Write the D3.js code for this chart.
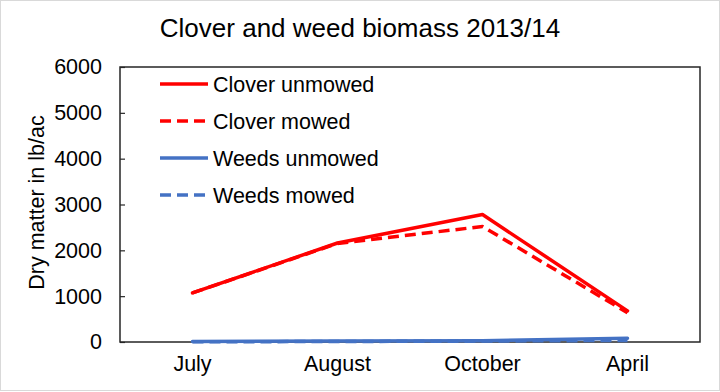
<!DOCTYPE html>
<html>
<head>
<meta charset="utf-8">
<script src="https://cdn.jsdelivr.net/npm/d3@7"></script>
<style>
  body { margin: 0; background: #fff; }
  svg { display: block; font-family: Arial, "Liberation Sans", sans-serif; }
</style>
</head>
<body>
<div id="chart"></div>
<script>
// chart data
const months = ['July', 'August', 'October', 'April'];
const cloverUnmowed = [1070, 2160, 2780, 680];
const cloverMowed = [1070, 2150, 2520, 640];
const weedsUnmowed = [10, 20, 30, 80];
const weedsMowed = [5, 10, 20, 35];
const yTicks = [0, 1000, 2000, 3000, 4000, 5000, 6000];

const series = [
  { name: 'Clover unmowed', values: cloverUnmowed, color: '#ff0000', dash: null },
  { name: 'Clover mowed', values: cloverMowed, color: '#ff0000', dash: '11,6' },
  { name: 'Weeds unmowed', values: weedsUnmowed, color: '#4472c4', dash: null },
  { name: 'Weeds mowed', values: weedsMowed, color: '#4472c4', dash: '11,6' }
];

const width = 720, height = 392;
const margin = { top: 67, right: 20, bottom: 50, left: 120 };

const svg = d3.select('#chart').append('svg')
  .attr('width', width)
  .attr('height', height);

// outer chart border
svg.append('rect')
  .attr('x', 0.5).attr('y', 0.5)
  .attr('width', width - 1).attr('height', height - 2)
  .attr('fill', '#fff')
  .attr('stroke', '#d9d9d9');

const x = d3.scaleBand()
  .domain(months)
  .range([margin.left, width - margin.right]);

const y = d3.scaleLinear()
  .domain([0, 6000])
  .range([height - margin.bottom, margin.top]);

// plot box
svg.append('rect')
  .attr('x', margin.left).attr('y', margin.top)
  .attr('width', width - margin.left - margin.right)
  .attr('height', height - margin.top - margin.bottom)
  .attr('fill', 'none')
  .attr('stroke', '#262626')
  .attr('stroke-width', 1.5);

// y axis with inward ticks
const yAxis = svg.append('g')
  .attr('transform', `translate(${margin.left},0)`)
  .call(d3.axisLeft(y).tickValues(yTicks).tickFormat(d3.format('d')).tickSize(-5).tickPadding(18));
yAxis.select('.domain').remove();
yAxis.selectAll('.tick line').attr('stroke', '#262626').attr('stroke-width', 1.2);
yAxis.selectAll('.tick text')
  .attr('fill', '#000')
  .style('font-size', '21.5px')
  .attr('font-family', 'Arial, "Liberation Sans", sans-serif');

// x axis labels
const xAxis = svg.append('g')
  .attr('transform', `translate(0,${height - margin.bottom})`)
  .call(d3.axisBottom(x).tickSize(0).tickPadding(14));
xAxis.select('.domain').remove();
xAxis.selectAll('.tick text')
  .attr('fill', '#000')
  .style('font-size', '21.5px')
  .attr('font-family', 'Arial, "Liberation Sans", sans-serif');

// title
svg.append('text')
  .attr('x', 360).attr('y', 37)
  .attr('text-anchor', 'middle')
  .style('font-size', '26px')
  .text('Clover and weed biomass 2013/14');

// y axis title
svg.append('text')
  .attr('transform', `translate(44,${(margin.top + height - margin.bottom) / 2 - 2}) rotate(-90)`)
  .attr('text-anchor', 'middle')
  .style('font-size', '21.5px')
  .text('Dry matter in lb/ac');

// lines
const line = d3.line()
  .x((d, i) => x(months[i]) + x.bandwidth() / 2)
  .y(d => y(d));

// draw weeds first, clover on top
[3, 2, 1, 0].forEach(k => {
  const s = series[k];
  svg.append('path')
    .datum(s.values)
    .attr('fill', 'none')
    .attr('stroke', s.color)
    .attr('stroke-width', 3.5)
    .attr('stroke-dasharray', s.dash)
    .attr('stroke-linejoin', 'round')
    .attr('stroke-linecap', s.dash ? 'butt' : 'round')
    .attr('d', line);
});

// legend
const legend = svg.append('g');
series.forEach((s, i) => {
  const ly = 84 + i * 37;
  legend.append('line')
    .attr('x1', 160).attr('x2', 208)
    .attr('y1', ly).attr('y2', ly)
    .attr('stroke', s.color)
    .attr('stroke-width', 3.5)
    .attr('stroke-dasharray', s.dash);
  legend.append('text')
    .attr('x', 213).attr('y', ly + 7.5)
    .style('font-size', '21.5px')
    .text(s.name);
});
</script>
</body>
</html>
